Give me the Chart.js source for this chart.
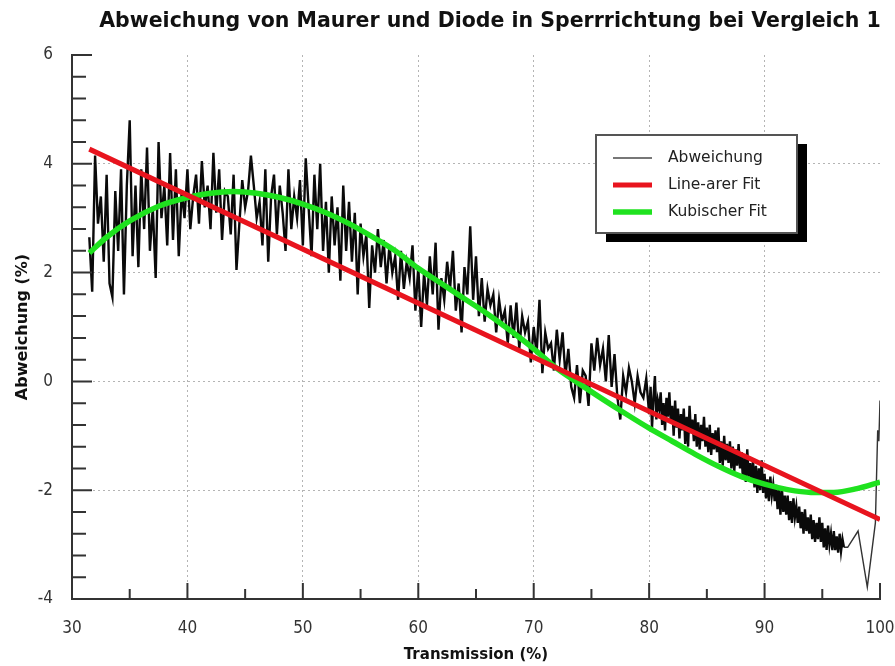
<!DOCTYPE html>
<html><head><meta charset="utf-8">
<script src="https://cdn.jsdelivr.net/npm/chart.js@4.4.1/dist/chart.umd.min.js"></script>
<style>html,body{margin:0;padding:0;background:#fff;} #wrap{width:895px;height:666px;}</style>
</head><body><div id="wrap"><canvas id="c" width="895" height="666"></canvas></div>
<script>
// ---- texts ----
const chartTitle = 'Abweichung von Maurer und Diode in Sperrrichtung bei Vergleich 1';
const xTitle = 'Transmission (%)';
const yTitle = 'Abweichung (%)';
const seriesNames = ['Abweichung', 'Line-arer Fit', 'Kubischer Fit'];

// ---- axis ranges / ticks ----
const xMin = 30, xMax = 100, xMajorStep = 10, xMinorStep = 5;
const yMin = -4, yMax = 6, yMajorStep = 2, yMinorStep = 0.4;

// ---- measured series (Abweichung), part A: every 0.25 % from 31.5 % ----
const abwStartA = 31.5, abwStepA = 0.25;
const abwValuesA = [
 2.65,1.65,4.15,2.9,  3.4,2.2,3.8,1.8,  1.55,3.5,2.4,3.9,  1.6,3.6,4.8,2.3,
 3.6,2.1,3.9,2.8,  4.3,2.4,3.2,1.9,  4.4,3.0,3.6,2.5,  4.2,2.6,3.9,2.3,
 3.5,3.0,3.9,2.8,  3.4,3.8,2.9,4.05,  3.2,3.6,2.8,4.2,  3.1,3.9,2.6,3.5,
 3.4,2.7,3.8,2.05,  2.9,3.7,3.2,3.5,  4.15,3.6,3.0,3.3,  2.5,3.9,2.2,3.4,
 3.8,2.7,3.6,3.1,  2.4,3.9,2.8,3.4,  3.0,3.7,2.5,4.1,  3.2,2.3,3.8,2.8,
 4.0,2.4,3.3,2.0,  3.4,2.5,3.2,1.85,  3.6,2.4,3.3,2.2,  3.1,1.6,2.9,2.3,
 2.7,1.35,2.5,2.0,  2.8,2.1,2.6,1.8,  2.5,2.0,2.3,1.5,  2.4,1.7,2.2,1.9,
 2.5,1.3,2.1,1.0,  2.0,1.4,2.3,1.6,  2.55,0.95,1.9,1.5,  2.2,1.7,2.4,1.3,
 1.8,0.9,2.1,1.6,  2.85,1.5,2.3,1.2,  1.9,1.1,1.7,1.4,  1.6,0.9,1.5,1.1,
 1.3,0.7,1.4,0.8,  1.45,0.6,1.2,0.9,  1.1,0.35,1.0,0.5,  1.5,0.15,0.9,0.6,
 0.7,0.2,0.95,0.4,  0.9,0.1,0.6,-0.1,  -0.3,0.3,-0.4,0.2,  0.1,-0.45,0.7,0.2,
 0.8,0.3,0.6,0.0,  0.85,-0.1,0.5,-0.3,  -0.7,0.1,-0.2,0.25,  0.0,-0.4,0.1,-0.2,
 -0.3,0.05
];
// ---- part B: every 0.125 % from 80 % (dense band) ----
const abwStartB = 80, abwStepB = 0.125;
const abwValuesB = [
 -0.6,-0.1,-0.85,-0.3,0.1,-0.7,-0.35,-0.5,
 -0.2,-0.8,-0.4,-0.9,-0.3,-0.65,-0.2,-0.75,
 -0.45,-1.0,-0.35,-0.85,-0.5,-1.05,-0.6,-0.9,
 -0.5,-1.15,-0.65,-1.2,-0.45,-0.95,-0.7,-1.1,
 -0.6,-1.2,-0.75,-1.25,-0.8,-1.1,-0.65,-1.2,
 -0.85,-1.3,-0.8,-1.35,-0.95,-1.25,-0.9,-1.3,
 -0.85,-1.5,-1.1,-1.55,-1.0,-1.45,-1.15,-1.5,
 -1.1,-1.6,-1.2,-1.65,-1.25,-1.55,-1.15,-1.6,
 -1.3,-1.8,-1.4,-1.85,-1.25,-1.75,-1.5,-1.85,
 -1.45,-1.95,-1.55,-2.05,-1.6,-2.0,-1.45,-2.05,
 -1.7,-2.15,-1.8,-2.2,-1.75,-2.1,-1.9,-2.2,
 -1.9,-2.35,-2.0,-2.45,-1.95,-2.4,-2.1,-2.45,
 -2.1,-2.55,-2.2,-2.6,-2.15,-2.5,-2.3,-2.6,
 -2.3,-2.7,-2.4,-2.8,-2.35,-2.75,-2.5,-2.8,
 -2.45,-2.9,-2.55,-2.95,-2.6,-2.9,-2.5,-2.95,
 -2.6,-3.05,-2.7,-3.1,-2.65,-3.0,-2.8,-3.1,
 -2.75,-3.1,-2.85,-3.15,-2.8,-3.12,-2.9,-3.05
];
// ---- part C: sparse tail ----
const abwTailX = [97.2, 98.1, 98.9, 99.6, 99.8, 99.9, 100];
const abwTailY = [-3.05, -2.75, -3.78, -2.6, -0.9, -1.1, -0.35];

// ---- linear fit ----
const linX = [31.5, 100];
const linY = [4.27, -2.54];

// ---- cubic fit ----
const kubX = [31.5,33,35,37.5,40,42,44,46,48,50,52,54,56,58,60,62,64,66,68,70,72,74,76,78,80,82,84,86,88,90,92,94,96,98,100];
const kubY = [2.36,2.65,2.95,3.22,3.38,3.46,3.49,3.46,3.38,3.26,3.1,2.9,2.66,2.4,2.08,1.8,1.52,1.24,0.93,0.6,0.24,-0.05,-0.33,-0.6,-0.86,-1.1,-1.34,-1.56,-1.75,-1.89,-1.99,-2.04,-2.04,-1.97,-1.85];

// ---- build point tables ----
const abwPoints = abwValuesA.map((v, i) => ({x: abwStartA + i * abwStepA, y: v}))
  .concat(abwValuesB.map((v, i) => ({x: abwStartB + i * abwStepB, y: v})))
  .concat(abwTailX.map((x, i) => ({x, y: abwTailY[i]})));
const linPoints = linX.map((x, i) => ({x, y: linY[i]}));
const kubPoints = kubX.map((x, i) => ({x, y: kubY[i]}));

const FONT = '"DejaVu Sans Condensed", "DejaVu Sans", sans-serif';
const FONT_WIDE = '"DejaVu Sans", sans-serif';
Chart.defaults.font.family = FONT;

const decorPlugin = {
  id: 'decor',
  afterDraw(chart) {
    const {ctx, chartArea: a} = chart;
    const xs = chart.scales.x, ys = chart.scales.y;
    ctx.save();
    // inward tick marks
    ctx.strokeStyle = '#333';
    ctx.lineWidth = 2;
    ctx.beginPath();
    for (let i = 0; yMin + i * yMinorStep <= yMax + 1e-9; i++) {
      const v = yMin + i * yMinorStep;
      const py = ys.getPixelForValue(v);
      const major = Math.abs(v / yMajorStep - Math.round(v / yMajorStep)) < 1e-6;
      ctx.moveTo(a.left, py); ctx.lineTo(a.left + (major ? 20 : 14), py);
    }
    for (let i = 0; xMin + i * xMinorStep <= xMax + 1e-9; i++) {
      const v = xMin + i * xMinorStep;
      const px = xs.getPixelForValue(v);
      const major = Math.abs(v / xMajorStep - Math.round(v / xMajorStep)) < 1e-6;
      ctx.moveTo(px, a.bottom); ctx.lineTo(px, a.bottom - (major ? 16 : 10));
    }
    ctx.stroke();

    // title
    ctx.fillStyle = '#111';
    ctx.font = 'bold 20.5px ' + FONT_WIDE;
    ctx.textAlign = 'center';
    ctx.textBaseline = 'middle';
    ctx.fillText(chartTitle, 490, 22);

    // legend box with shadow
    const bx = 596, by = 135, bw = 201, bh = 98;
    ctx.fillStyle = '#000';
    ctx.fillRect(bx + 10, by + 9, bw, bh);
    ctx.fillStyle = '#fff';
    ctx.fillRect(bx, by, bw, bh);
    ctx.strokeStyle = '#555';
    ctx.lineWidth = 2;
    ctx.strokeRect(bx, by, bw, bh);
    ctx.textAlign = 'left';
    ctx.font = '15.5px ' + FONT_WIDE;
    chart.data.datasets.forEach((ds, i) => {
      const ry = by + 23 + i * 27;
      ctx.strokeStyle = ds.legendColor || ds.borderColor;
      ctx.lineWidth = ds.legendWidth || ds.borderWidth;
      ctx.beginPath();
      ctx.moveTo(bx + 17, ry); ctx.lineTo(bx + 56, ry);
      ctx.stroke();
      ctx.fillStyle = '#222';
      ctx.fillText(ds.label, bx + 72, ry);
    });
    ctx.restore();
  }
};

const gridColor = (edgeA, edgeB) => (c) =>
  (c.tick && (c.tick.value === edgeA || c.tick.value === edgeB)) ? 'rgba(0,0,0,0)' : '#b4b4b4';

new Chart(document.getElementById('c'), {
  type: 'line',
  data: {
    datasets: [
      {label: seriesNames[0], data: abwPoints, borderColor: '#0a0a0a', borderWidth: 2.4,
       legendColor: '#777', legendWidth: 2, pointRadius: 0, tension: 0, order: 3,
       segment: {
         borderWidth: (c) => (c.p0.parsed.x >= 96.8 ? 1.4 : undefined),
         borderColor: (c) => (c.p0.parsed.x >= 96.8 ? '#333' : undefined)
       }},
      {label: seriesNames[1], data: linPoints, borderColor: '#e8141e', borderWidth: 5,
       pointRadius: 0, tension: 0, order: 1},
      {label: seriesNames[2], data: kubPoints, borderColor: '#1fe21f', borderWidth: 5.5,
       pointRadius: 0, cubicInterpolationMode: 'monotone', order: 2}
    ]
  },
  options: {
    responsive: false,
    animation: false,
    devicePixelRatio: 1,
    layout: {padding: {top: 55, right: 0, left: 13, bottom: 0}},
    plugins: {legend: {display: false}, tooltip: {enabled: false}, title: {display: false}},
    scales: {
      x: {
        type: 'linear', min: xMin, max: xMax,
        afterFit: (s) => { s.height = 67; s.paddingRight = 15; },
        ticks: {stepSize: xMajorStep, padding: 19, color: '#333', maxRotation: 0, autoSkip: false,
                font: {size: 17}},
        grid: {color: gridColor(xMin, xMax), lineWidth: 1, drawTicks: false},
        border: {display: true, color: '#333', width: 2, dash: [2, 3]},
        title: {display: true, text: xTitle, color: '#111', padding: {top: 0, bottom: 2},
                font: {family: FONT_WIDE, size: 15, weight: 'bold'}}
      },
      y: {
        type: 'linear', min: yMin, max: yMax,
        afterFit: (s) => { s.width = 59; },
        ticks: {stepSize: yMajorStep, padding: 19, color: '#333', font: {size: 17}},
        grid: {color: gridColor(yMin, yMax), lineWidth: 1, drawTicks: false},
        border: {display: true, color: '#333', width: 2, dash: [2, 3]},
        title: {display: true, text: yTitle, color: '#111', padding: {top: 0, bottom: 0},
                font: {family: FONT_WIDE, size: 16, weight: 'bold'}}
      }
    }
  },
  plugins: [decorPlugin]
});
</script>
</body></html>
